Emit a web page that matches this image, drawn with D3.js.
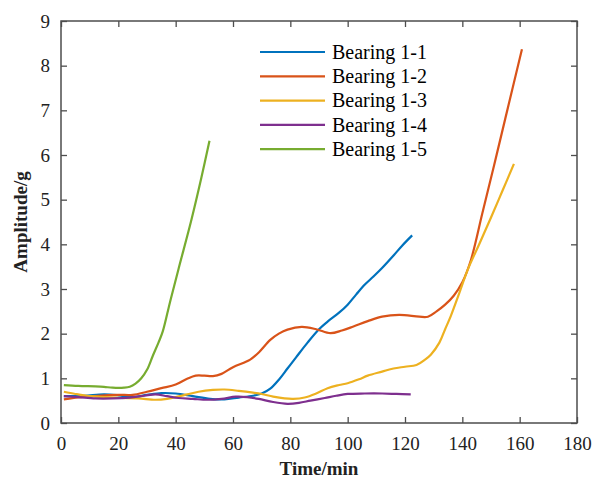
<!DOCTYPE html>
<html>
<head>
<meta charset="utf-8">
<script src="https://cdn.jsdelivr.net/npm/d3@7"></script>
<style>
  body { margin: 0; background: #fff; }
  svg text { font-family: "Liberation Serif", "Times New Roman", serif; }
</style>
</head>
<body>
<div id="chart"></div>
<script>
// readings: [time (min), amplitude (g)]
var bearing11 = [[1,0.6],[8,0.61],[15,0.64],[20,0.62],[25,0.58],[30,0.63],[35,0.67],[40,0.66],[46,0.6],[52,0.54],[57,0.53],[62,0.57],[67,0.61],[70,0.66],[73,0.77],[76,0.97],[79,1.22],[82,1.47],[86,1.8],[90,2.1],[93,2.27],[97,2.47],[100,2.65],[103,2.88],[106,3.1],[109,3.28],[112,3.47],[116,3.75],[119,3.97],[122.5,4.2]];
var bearing12 = [[1,0.53],[7,0.58],[13,0.61],[20,0.63],[25,0.63],[30,0.7],[35,0.78],[40,0.86],[44,0.99],[47,1.06],[50,1.06],[53,1.05],[56,1.1],[60,1.25],[66,1.42],[69,1.58],[73,1.86],[76,2.0],[79,2.09],[84,2.15],[89,2.1],[94,2.01],[98,2.07],[102,2.16],[107,2.28],[112,2.38],[118,2.42],[125,2.38],[128,2.38],[131,2.5],[134,2.65],[137,2.85],[140,3.15],[143,3.65],[147,4.7],[151,5.75],[155,6.82],[160.8,8.37]];
var bearing13 = [[1,0.7],[5,0.65],[10,0.6],[15,0.58],[21,0.56],[27,0.55],[33,0.52],[37,0.54],[40,0.58],[44,0.64],[48,0.7],[53,0.74],[57,0.75],[62,0.72],[67,0.68],[70,0.65],[74,0.59],[78,0.55],[81,0.54],[85,0.57],[89,0.66],[93,0.78],[97,0.85],[100,0.89],[104,0.98],[107,1.06],[112,1.15],[116,1.22],[120,1.26],[124,1.3],[127,1.42],[129,1.53],[132,1.8],[134,2.1],[136,2.4],[139,2.92],[142,3.45],[146,4.02],[150,4.6],[154,5.2],[158,5.8]];
var bearing14 = [[1,0.6],[6,0.58],[12,0.55],[18,0.55],[24,0.57],[29,0.61],[33,0.64],[37,0.6],[41,0.56],[46,0.54],[51,0.52],[56,0.54],[61,0.59],[65,0.58],[69,0.54],[74,0.47],[79,0.43],[83,0.45],[87,0.5],[92,0.56],[96,0.61],[100,0.65],[106,0.66],[112,0.66],[117,0.65],[122,0.64]];
var bearing15 = [[1,0.85],[6,0.83],[12,0.82],[15,0.81],[18,0.79],[22,0.79],[24,0.81],[26,0.88],[28,1.0],[30,1.19],[32,1.5],[34,1.8],[35.5,2.05],[38,2.7],[41,3.45],[45.5,4.55],[49,5.5],[51.8,6.32]];

var seriesNames = ["Bearing 1-1", "Bearing 1-2", "Bearing 1-3", "Bearing 1-4", "Bearing 1-5"];
var seriesData = [bearing11, bearing12, bearing13, bearing14, bearing15];
var colors = ["#0072BD", "#D95319", "#EDB120", "#7E2F8E", "#77AC30"];
var xTicks = [0, 20, 40, 60, 80, 100, 120, 140, 160, 180];
var yTicks = [0, 1, 2, 3, 4, 5, 6, 7, 8, 9];

var W = 594, H = 479;
var margin = {top: 21, right: 17, bottom: 56, left: 61};
var width = W - margin.left - margin.right;
var height = H - margin.top - margin.bottom;
var axisColor = "#4d4d4d";
var serif = "'Liberation Serif', 'Times New Roman', serif";

var svg = d3.select("#chart").append("svg")
    .attr("width", W)
    .attr("height", H);

var g = svg.append("g")
    .attr("transform", "translate(" + margin.left + "," + margin.top + ")");

var x = d3.scaleLinear().domain([0, 180]).range([0, width]);
var y = d3.scaleLinear().domain([0, 9]).range([height, 0]);

// curves first, box on top
var line = d3.line()
    .x(function(d){ return x(d[0]); })
    .y(function(d){ return y(d[1]); })
    .curve(d3.curveCatmullRom.alpha(0.5));

g.selectAll(".series")
    .data(seriesData)
    .enter().append("path")
    .attr("class", "series")
    .attr("fill", "none")
    .attr("stroke", function(d, i){ return colors[i]; })
    .attr("stroke-width", 2.2)
    .attr("stroke-linejoin", "round")
    .attr("d", line);

// axes, ticks pointing inward on all four sides
function styleAxis(sel){
    sel.attr("font-family", serif);
    sel.select(".domain").remove();
    sel.selectAll(".tick line").attr("stroke", axisColor).attr("stroke-width", 1.3);
    sel.selectAll(".tick text")
        .attr("fill", "#222")
        .style("font-size", "19px");
}

g.append("g")
    .attr("transform", "translate(0," + height + ")")
    .call(d3.axisBottom(x).tickValues(xTicks).tickSize(-6).tickPadding(14))
    .call(styleAxis);
g.append("g")
    .call(d3.axisTop(x).tickValues(xTicks).tickSize(-6).tickFormat(""))
    .call(styleAxis);
g.append("g")
    .call(d3.axisLeft(y).tickValues(yTicks).tickSize(-6).tickPadding(11))
    .call(styleAxis);
g.append("g")
    .attr("transform", "translate(" + width + ",0)")
    .call(d3.axisRight(y).tickValues(yTicks).tickSize(-6).tickFormat(""))
    .call(styleAxis);

g.append("rect")
    .attr("width", width)
    .attr("height", height)
    .attr("fill", "none")
    .attr("stroke", axisColor)
    .attr("stroke-width", 1.5);

// axis titles
g.append("text")
    .attr("x", width / 2)
    .attr("y", height + 52)
    .attr("text-anchor", "middle")
    .attr("font-weight", "bold")
    .style("font-size", "19px")
    .attr("fill", "#222")
    .text("Time/min");

g.append("text")
    .attr("transform", "translate(" + (-34) + "," + (height / 2) + ") rotate(-90)")
    .attr("text-anchor", "middle")
    .attr("font-weight", "bold")
    .style("font-size", "19px")
    .attr("fill", "#222")
    .text("Amplitude/g");

// legend
var legend = svg.append("g")
    .attr("transform", "translate(260, 52)");

seriesNames.forEach(function(name, i){
    var row = legend.append("g").attr("transform", "translate(0," + (i * 24.3) + ")");
    row.append("line")
        .attr("x1", 0).attr("x2", 65)
        .attr("y1", 0).attr("y2", 0)
        .attr("stroke", colors[i])
        .attr("stroke-width", 2.2);
    row.append("text")
        .attr("x", 72)
        .attr("y", 0)
        .attr("dy", "0.33em")
        .style("font-size", "20px")
        .attr("fill", "#000")
        .text(name);
});
</script>
</body>
</html>
